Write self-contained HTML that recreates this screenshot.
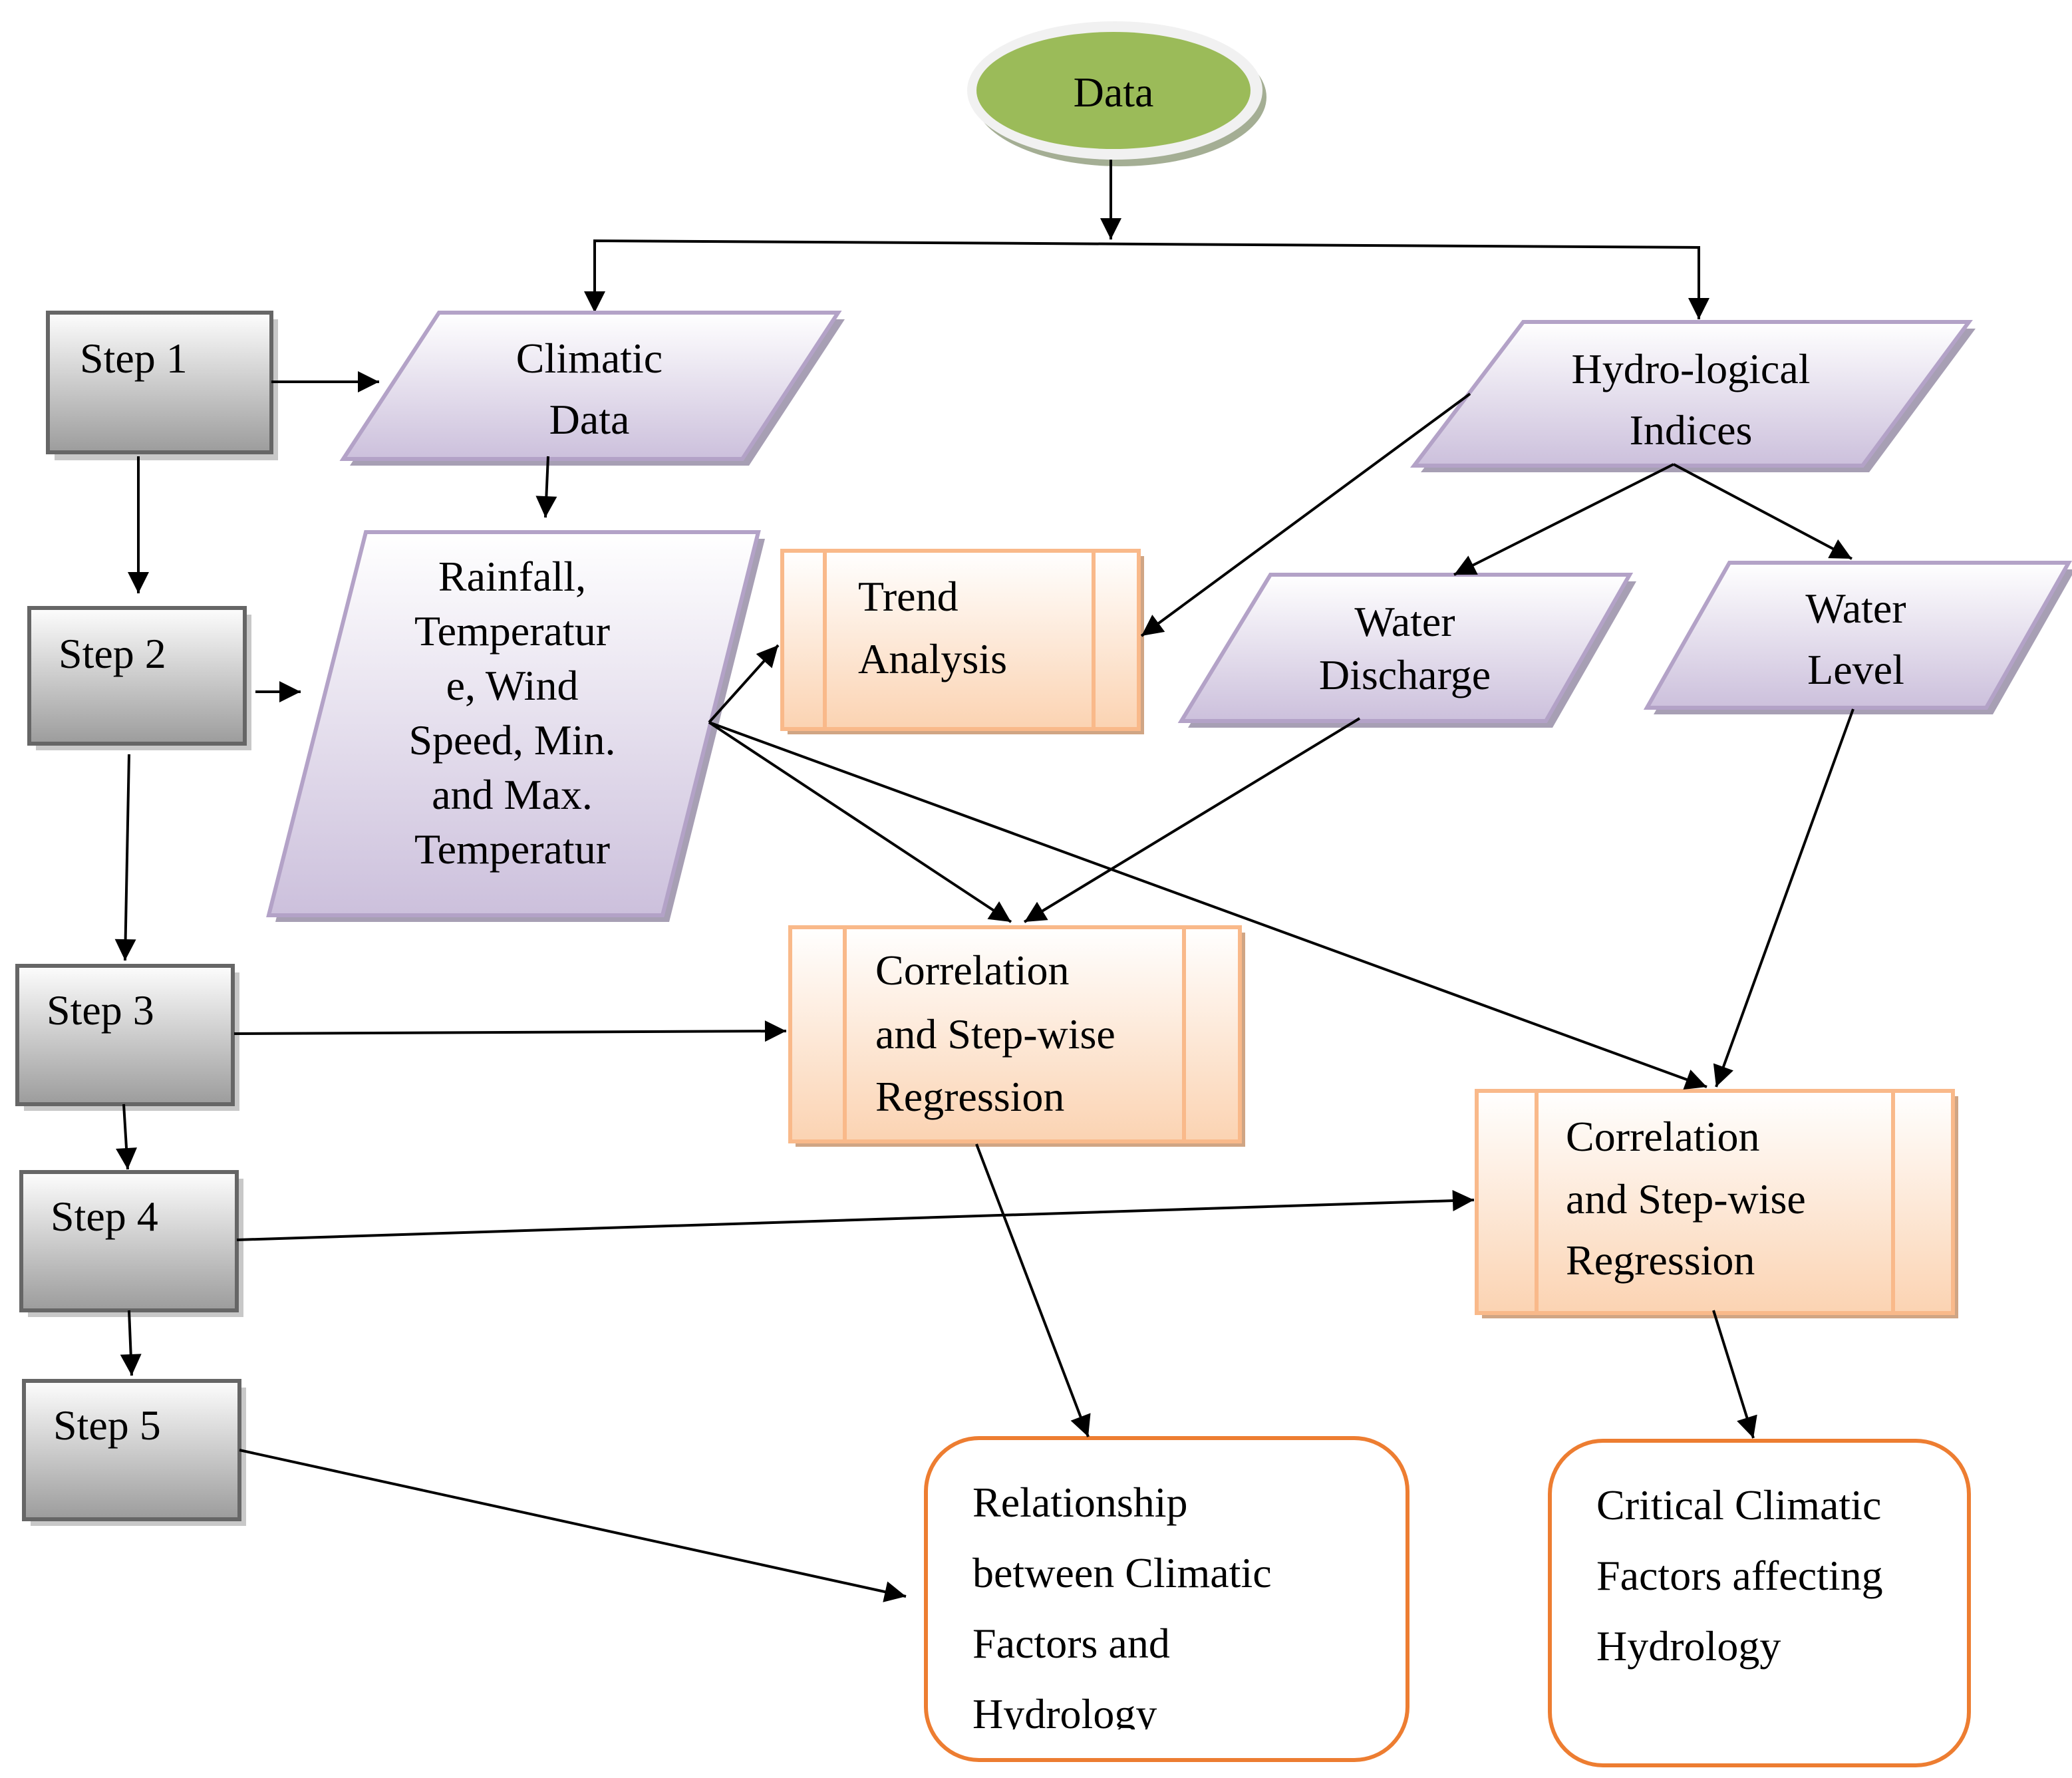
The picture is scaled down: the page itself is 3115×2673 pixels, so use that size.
<!DOCTYPE html>
<html><head><meta charset="utf-8"><style>html,body{margin:0;padding:0;background:#fff}svg{display:block}</style></head>
<body>
<svg width="3115" height="2673" viewBox="0 0 1557.5 1336.5" xmlns="http://www.w3.org/2000/svg" font-family="Liberation Serif, serif" font-size="32">
<defs>
<linearGradient id="gs" x1="0" y1="0" x2="0" y2="1"><stop offset="0" stop-color="#fdfdfd"/><stop offset="1" stop-color="#9c9c9c"/></linearGradient>
<linearGradient id="gp" x1="0" y1="0" x2="0" y2="1"><stop offset="0" stop-color="#ffffff"/><stop offset="1" stop-color="#ccc0dc"/></linearGradient>
<linearGradient id="go" x1="0" y1="0" x2="0" y2="1"><stop offset="0" stop-color="#ffffff"/><stop offset="1" stop-color="#fbd3b2"/></linearGradient>
<marker id="b" viewBox="0 0 10 10" markerWidth="18" markerHeight="16" refX="10" refY="5" orient="auto" markerUnits="userSpaceOnUse"><path d="M0,0 L10,5 L0,10 z" fill="#000"/></marker>
</defs>

<ellipse cx="842" cy="73" rx="110" ry="52" fill="#a4ae94"/>
<ellipse cx="838" cy="68" rx="111" ry="52" fill="#f1f1f1"/>
<ellipse cx="837" cy="68" rx="103" ry="44" fill="#9bbb59"/>
<text x="837" y="80" text-anchor="middle">Data</text>

<g stroke="#000" stroke-width="2" fill="none">
<line x1="835" y1="120" x2="835" y2="180" marker-end="url(#b)"/>
<polyline points="447,200 447,181 1277,186 1277,240" marker-end="url(#b)"/>
</g>
<line x1="447" y1="190" x2="447" y2="235" stroke="#000" stroke-width="2" marker-end="url(#b)"/>

<g>
<rect x="41" y="240" width="168" height="106" fill="#c8c8c8"/>
<rect x="36" y="235" width="168" height="105" fill="url(#gs)" stroke="#666" stroke-width="3"/>
<rect x="27" y="462" width="162" height="102" fill="#c8c8c8"/>
<rect x="22" y="457" width="162" height="102" fill="url(#gs)" stroke="#666" stroke-width="3"/>
<rect x="18" y="731" width="162" height="104" fill="#c8c8c8"/>
<rect x="13" y="726" width="162" height="104" fill="url(#gs)" stroke="#666" stroke-width="3"/>
<rect x="21" y="886" width="162" height="104" fill="#c8c8c8"/>
<rect x="16" y="881" width="162" height="104" fill="url(#gs)" stroke="#666" stroke-width="3"/>
<rect x="23" y="1043" width="162" height="104" fill="#c8c8c8"/>
<rect x="18" y="1038" width="162" height="104" fill="url(#gs)" stroke="#666" stroke-width="3"/>
</g>
<text x="60" y="280">Step 1</text>
<text x="44" y="502">Step 2</text>
<text x="35" y="770">Step 3</text>
<text x="38" y="925">Step 4</text>
<text x="40" y="1082">Step 5</text>

<g stroke="#b3a2c7" stroke-width="3">
<polygon points="335,240 635,240 563,350 263,350" fill="#a79fb4" stroke="none"/>
<polygon points="330,235 630,235 558,345 258,345" fill="url(#gp)"/>
<polygon points="280,405 575,405 503,693 207,693" fill="#a79fb4" stroke="none"/>
<polygon points="275,400 570,400 498,688 202,688" fill="url(#gp)"/>
<polygon points="1150,247 1485,247 1405,355 1068,355" fill="#a79fb4" stroke="none"/>
<polygon points="1145,242 1480,242 1400,350 1063,350" fill="url(#gp)"/>
<polygon points="960,437 1230,437 1167,547 893,547" fill="#a79fb4" stroke="none"/>
<polygon points="955,432 1225,432 1162,542 888,542" fill="url(#gp)"/>
<polygon points="1305,428 1560,428 1498,537 1243,537" fill="#a79fb4" stroke="none"/>
<polygon points="1300,423 1555,423 1493,532 1238,532" fill="url(#gp)"/>
</g>
<text text-anchor="middle"><tspan x="443" y="280">Climatic</tspan><tspan x="443" y="326">Data</tspan></text>
<text text-anchor="middle"><tspan x="385" y="444">Rainfall,</tspan><tspan x="385" y="485">Temperatur</tspan><tspan x="385" y="526">e, Wind</tspan><tspan x="385" y="567">Speed, Min.</tspan><tspan x="385" y="608">and Max.</tspan><tspan x="385" y="649">Temperatur</tspan></text>
<text text-anchor="middle"><tspan x="1271" y="288">Hydro-logical</tspan><tspan x="1271" y="334">Indices</tspan></text>
<text text-anchor="middle"><tspan x="1056" y="478">Water</tspan><tspan x="1056" y="518">Discharge</tspan></text>
<text text-anchor="middle"><tspan x="1395" y="468">Water</tspan><tspan x="1395" y="514">Level</tspan></text>

<g stroke="#f9b98a" stroke-width="3">
<rect x="592" y="418" width="268" height="134" fill="#d0a584" stroke="none"/>
<rect x="588" y="414" width="268" height="134" fill="url(#go)"/>
<line x1="620" y1="414" x2="620" y2="548"/><line x1="822" y1="414" x2="822" y2="548"/>
<rect x="598" y="701" width="338" height="161" fill="#d0a584" stroke="none"/>
<rect x="594" y="697" width="338" height="161" fill="url(#go)"/>
<line x1="635" y1="697" x2="635" y2="858"/><line x1="890" y1="697" x2="890" y2="858"/>
<rect x="1114" y="824" width="358" height="167" fill="#d0a584" stroke="none"/>
<rect x="1110" y="820" width="358" height="167" fill="url(#go)"/>
<line x1="1155" y1="820" x2="1155" y2="987"/><line x1="1423" y1="820" x2="1423" y2="987"/>
</g>
<text><tspan x="645" y="459">Trend</tspan><tspan x="645" y="506">Analysis</tspan></text>
<text><tspan x="658" y="740">Correlation</tspan><tspan x="658" y="788">and Step-wise</tspan><tspan x="658" y="835">Regression</tspan></text>
<text><tspan x="1177" y="865">Correlation</tspan><tspan x="1177" y="912">and Step-wise</tspan><tspan x="1177" y="958">Regression</tspan></text>

<rect x="696" y="1081" width="362" height="242" rx="40" fill="#fff" stroke="#ed7d31" stroke-width="3"/>
<rect x="1165" y="1083" width="315" height="244" rx="40" fill="#fff" stroke="#ed7d31" stroke-width="3"/>
<text><tspan x="731" y="1140">Relationship</tspan><tspan x="731" y="1193">between Climatic</tspan><tspan x="731" y="1246">Factors and</tspan><tspan x="731" y="1299">Hydrology</tspan></text>
<text><tspan x="1200" y="1142">Critical Climatic</tspan><tspan x="1200" y="1195">Factors affecting</tspan><tspan x="1200" y="1248">Hydrology</tspan></text>
<rect x="722" y="1300" width="310" height="18" fill="#fff"/>

<g stroke="#000" stroke-width="2" fill="none" marker-end="url(#b)">
<line x1="204" y1="287" x2="285" y2="287"/>
<line x1="104" y1="343" x2="104" y2="446"/>
<line x1="412" y1="343" x2="410" y2="389"/>
<line x1="192" y1="520" x2="226" y2="520"/>
<line x1="97" y1="567" x2="94" y2="722"/>
<line x1="533" y1="543" x2="585" y2="485"/>
<line x1="533" y1="543" x2="760" y2="693"/>
<line x1="533" y1="543" x2="1283" y2="817"/>
<line x1="1105" y1="296" x2="858" y2="478"/>
<line x1="1258" y1="349" x2="1093" y2="432"/>
<line x1="1258" y1="349" x2="1392" y2="420"/>
<line x1="1022" y1="540" x2="770" y2="693"/>
<line x1="1393" y1="533" x2="1290" y2="817"/>
<line x1="176" y1="777" x2="591" y2="775"/>
<line x1="93" y1="830" x2="96" y2="879"/>
<line x1="97" y1="985" x2="99" y2="1034"/>
<line x1="178" y1="932" x2="1108" y2="902"/>
<line x1="180" y1="1090" x2="681" y2="1200"/>
<line x1="734" y1="860" x2="818" y2="1080"/>
<line x1="1288" y1="985" x2="1318" y2="1081"/>
</g>
</svg>
</body></html>
